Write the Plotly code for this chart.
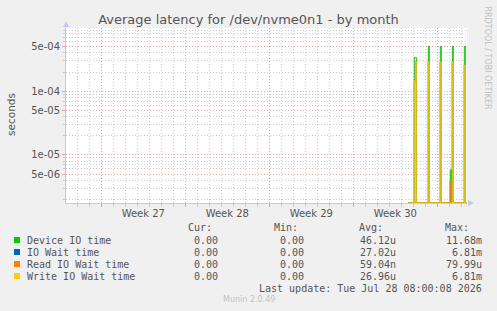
import plotly.graph_objects as go
from datetime import datetime, timedelta

# ---------------- data ----------------
times = ["2026-07-24 14:00", "2026-07-25 00:00", "2026-07-25 02:00", "2026-07-25 04:00",
         "2026-07-25 06:00", "2026-07-26 04:00", "2026-07-26 06:00", "2026-07-26 08:00",
         "2026-07-27 04:00", "2026-07-27 06:00", "2026-07-27 08:00", "2026-07-28 00:00",
         "2026-07-28 02:00", "2026-07-28 04:00", "2026-07-28 06:00", "2026-07-28 08:00",
         "2026-07-29 04:00", "2026-07-29 06:00", "2026-07-29 08:00", "2026-07-29 12:00"]
device_io = [0, 0, 3.4e-4, 3.4e-4, 0, 0, 5.1e-4, 0, 0, 5.1e-4, 0, 0, 5.8e-6, 0, 5.1e-4, 0, 0, 5.1e-4, 0, 0]
io_wait = [0, 0, 1.46e-4, 2.9e-4, 0, 0, 2.9e-4, 0, 0, 2.9e-4, 0, 0, 3.8e-6, 0, 2.9e-4, 0, 0, 2.6e-4, 0, 0]
read_wait = [0, 0, 0, 0, 0, 0, 0, 0, 0, 0, 0, 0, 3.8e-6, 0, 0, 0, 0, 0, 0, 0]
write_wait = [0, 0, 1.46e-4, 2.9e-4, 0, 0, 2.9e-4, 0, 0, 2.9e-4, 0, 0, 0, 0, 2.9e-4, 0, 0, 2.6e-4, 0, 0]

series_names = ["Device IO time", "IO Wait time", "Read IO Wait time", "Write IO Wait time"]
series_colors = ["#00cc00", "#0066b3", "#ff8000", "#ffcc00"]
series_values = [device_io, io_wait, read_wait, write_wait]
cur_vals = ["0.00", "0.00", "0.00", "0.00"]
min_vals = ["0.00", "0.00", "0.00", "0.00"]
avg_vals = ["46.12u", "27.02u", "59.04n", "26.96u"]
max_vals = ["11.68m", "6.81m", "79.99u", "6.81m"]

week_starts = ["2026-06-29", "2026-07-06", "2026-07-13", "2026-07-20"]
week_labels = ["Week 27", "Week 28", "Week 29", "Week 30"]
y_tick_vals = [5e-6, 1e-5, 5e-5, 1e-4, 5e-4]
y_tick_text = ["5e-06", "1e-05", "5e-05", "1e-04", "5e-04"]

x_range = ["2026-06-26 01:26", "2026-07-29 11:24"]
y_log_range = [-5.757, -3.005]

# ---------------- layout helpers ----------------
W, H = 497, 311
L, R, T, B = 66, 467, 28, 203


def px(x):
    return (x - L) / (R - L)


def py(y):
    return (B - y) / (B - T)


TXT = "#555555"
MONO = "DejaVu Sans Mono"
SANS = "DejaVu Sans"
AXIS = "#c4c8f0"
MAJ = "rgba(225,130,130,0.75)"
MIN = "#cccccc"
DASH = "1px,2px"

floor_val = 10 ** y_log_range[0]

fig = go.Figure()
for name, color, vals in zip(series_names, series_colors, series_values):
    fig.add_trace(go.Scatter(
        x=times, y=[max(v, floor_val) for v in vals], name=name, mode="lines",
        line=dict(color=color, width=1, shape="hv"), showlegend=False, hoverinfo="skip"))

week_mids = [(datetime.fromisoformat(w) + timedelta(days=3.5)).strftime("%Y-%m-%d %H:%M") for w in week_starts]
fig.add_trace(go.Scatter(x=week_mids, y=[1e-4] * len(week_mids), xaxis="x2", mode="markers",
                         marker=dict(opacity=0), showlegend=False, hoverinfo="skip"))

minor_y = [k * 10 ** e for e in (-6, -5, -4) for k in (2, 3, 4, 6, 7, 8, 9)]

fig.update_layout(
    width=W, height=H,
    margin=dict(l=L, r=W - R, t=T, b=H - B, pad=0),
    paper_bgcolor="#f0f0f0", plot_bgcolor="#ffffff",
    title=dict(text="Average latency for /dev/nvme0n1 - by month", x=0.5, xanchor="center",
               y=1 - 19.5 / H, yanchor="middle", yref="container",
               font=dict(family=SANS, size=13, color=TXT)),
    xaxis=dict(type="date", range=x_range, tickmode="linear", tick0=week_starts[0],
               dtick=7 * 86400000, showticklabels=False, showgrid=True, gridcolor=MAJ,
               griddash=DASH, gridwidth=1, ticks="outside", ticklen=3, tickcolor=MAJ,
               showline=True, linecolor=AXIS, linewidth=1, zeroline=False,
               minor=dict(tick0=week_starts[0], dtick=86400000, showgrid=True, gridcolor=MIN,
                          griddash=DASH, gridwidth=1, ticks="outside", ticklen=3, tickcolor="#c8c8c8")),
    xaxis2=dict(type="date", range=x_range, overlaying="x", anchor="y", side="bottom",
                tickmode="array", tickvals=week_mids, ticktext=week_labels, showgrid=False,
                ticks="", showline=False, zeroline=False, ticklabelstandoff=3,
                tickfont=dict(family=SANS, size=10, color=TXT)),
    yaxis=dict(type="log", range=y_log_range, tickmode="array", tickvals=y_tick_vals,
               ticktext=y_tick_text, showgrid=True, gridcolor=MAJ, griddash=DASH, gridwidth=1,
               ticks="outside", ticklen=3, tickcolor=MAJ, showline=True, linecolor=AXIS,
               linewidth=1, zeroline=False, tickfont=dict(family=SANS, size=10, color=TXT),
               minor=dict(tickvals=minor_y, showgrid=True, gridcolor=MIN, griddash=DASH,
                          gridwidth=1, ticks="outside", ticklen=2, tickcolor="#c8c8c8")),
)

ann = []
shapes = []


def text(x, y, s, anchor="left", size=10, color=TXT, family=MONO, angle=0):
    ann.append(dict(x=px(x), y=py(y), xref="paper", yref="paper", text=s, showarrow=False,
                    xanchor=anchor, yanchor="middle", borderpad=0, textangle=angle,
                    font=dict(family=family, size=size, color=color)))


# axis title and side text
text(11, 115, "seconds", anchor="center", size=10.5, family=SANS, angle=-90)
ann.append(dict(x=px(487), y=py(5), xref="paper", yref="paper", text="RRDTOOL / TOBI OETIKER",
                showarrow=False, xanchor="center", yanchor="top", textangle=90, borderpad=0,
                font=dict(family=SANS, size=8, color="#c0c0c0")))

# legend table
for hx, h in zip([213, 299, 384, 470], ["Cur:", "Min:", "Avg:", "Max:"]):
    text(hx, 227.5, h, anchor="right")
for i, (name, color) in enumerate(zip(series_names, series_colors)):
    yy = 240 + 12 * i
    shapes.append(dict(type="rect", xref="paper", yref="paper", x0=px(14), x1=px(20),
                       y0=py(yy - 3), y1=py(yy + 3), fillcolor=color, line=dict(width=0)))
    text(26, yy, name)
    text(219, yy, cur_vals[i], anchor="right")
    text(305, yy, min_vals[i], anchor="right")
    text(397, yy, avg_vals[i], anchor="right")
    text(483, yy, max_vals[i], anchor="right")
text(483, 288, "Last update: Tue Jul 28 08:00:08 2026", anchor="right")
text(249, 299.5, "Munin 2.0.49", anchor="center", size=8, family=SANS, color="#c0c0c0")

# axis arrows
shapes.append(dict(type="path", xref="paper", yref="paper",
                   path=f"M {px(63)} {py(27)} L {px(69)} {py(27)} L {px(66)} {py(21)} Z",
                   fillcolor=AXIS, line=dict(width=0)))
shapes.append(dict(type="path", xref="paper", yref="paper",
                   path=f"M {px(468)} {py(200)} L {px(468)} {py(206)} L {px(474)} {py(203)} Z",
                   fillcolor=AXIS, line=dict(width=0)))

fig.update_layout(annotations=ann, shapes=shapes)
fig.write_html("out.html")
